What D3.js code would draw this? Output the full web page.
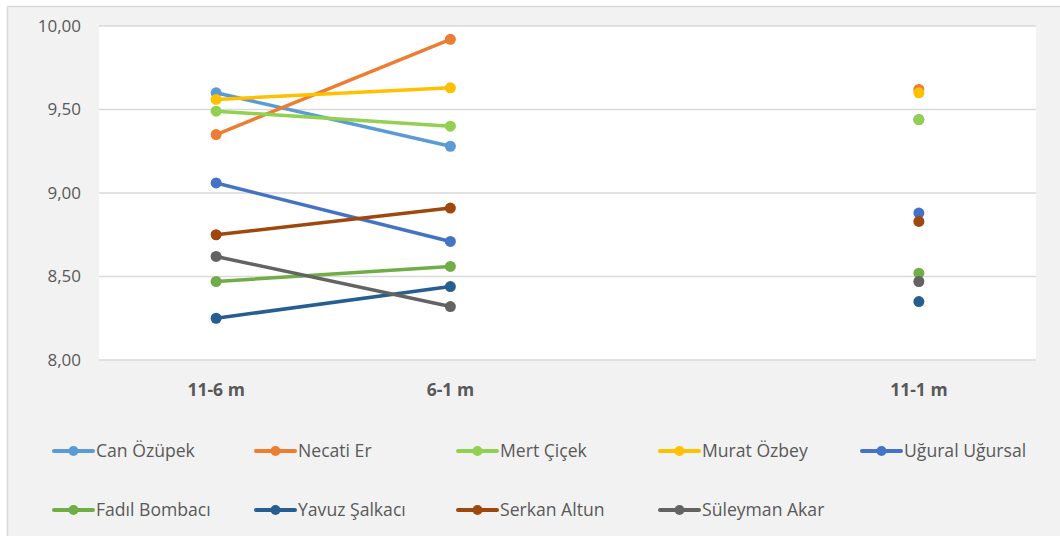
<!DOCTYPE html>
<html>
<head>
<meta charset="utf-8">
<script src="https://cdn.jsdelivr.net/npm/d3@7"></script>
<style>
  html, body { margin: 0; padding: 0; background: #fff; }
  svg { display: block; }
</style>
</head>
<body>
<div id="chart"></div>
<script>
'use strict'

// categories (third slot is an empty gap, as in the original sheet)
const categories = ['11-6 m', '6-1 m', '', '11-1 m']
const yTicks = [8, 8.5, 9, 9.5, 10]

const names = ['Can Özüpek', 'Necati Er', 'Mert Çiçek', 'Murat Özbey', 'Uğural Uğursal',
    'Fadıl Bombacı', 'Yavuz Şalkacı', 'Serkan Altun', 'Süleyman Akar']
const colors = ['#5B9BD5', '#ED7D31', '#92D050', '#FFC000', '#4472C4',
    '#70AD47', '#255E91', '#9E480E', '#636363']

const canOzupek = [9.60, 9.28, null, 9.44]
const necatiEr = [9.35, 9.92, null, 9.62]
const mertCicek = [9.49, 9.40, null, 9.44]
const muratOzbey = [9.56, 9.63, null, 9.60]
const uguralUgursal = [9.06, 8.71, null, 8.88]
const fadilBombaci = [8.47, 8.56, null, 8.52]
const yavuzSalkaci = [8.25, 8.44, null, 8.35]
const serkanAltun = [8.75, 8.91, null, 8.83]
const suleymanAkar = [8.62, 8.32, null, 8.47]

const seriesValues = [canOzupek, necatiEr, mertCicek, muratOzbey, uguralUgursal,
    fadilBombaci, yavuzSalkaci, serkanAltun, suleymanAkar]

const series = names.map((n, i) => ({ name: n, color: colors[i], values: seriesValues[i] }))

////////////////////////////////////
//////////// svg setup /////////////
////////////////////////////////////

const svgWidth = 1060
const svgHeight = 536
const plot = { left: 99, right: 1036, top: 26, bottom: 360 }
const font = "'Open Sans', sans-serif"
const textColor = '#595959'

const svg = d3.select('#chart')
    .append('svg')
    .attr('width', svgWidth)
    .attr('height', svgHeight)

// chart area background + border
svg.append('rect')
    .attr('x', 7.5).attr('y', 6.5)
    .attr('width', svgWidth).attr('height', svgHeight)
    .attr('fill', '#f2f2f2')
    .attr('stroke', '#d9d9d9')
    .attr('stroke-width', 1.5)

// plot area
svg.append('rect')
    .attr('x', plot.left).attr('y', plot.top)
    .attr('width', plot.right - plot.left).attr('height', plot.bottom - plot.top)
    .attr('fill', '#fff')

const x = d3.scaleBand()
    .domain(d3.range(categories.length))
    .range([plot.left, plot.right])

const y = d3.scaleLinear()
    .domain([8, 10])
    .range([plot.bottom, plot.top])

// gridlines
svg.append('g')
    .selectAll('line')
    .data(yTicks)
    .join('line')
    .attr('x1', plot.left).attr('x2', plot.right)
    .attr('y1', d => y(d)).attr('y2', d => y(d))
    .attr('stroke', '#d9d9d9')
    .attr('stroke-width', 1.5)

// y axis labels
const yAxis = svg.append('g')
    .attr('transform', `translate(${plot.left - 18},0)`)
    .call(d3.axisLeft(y).tickValues(yTicks).tickSize(0).tickPadding(0)
        .tickFormat(d => d3.format('.2f')(d).replace('.', ',')))
yAxis.select('.domain').remove()
yAxis.selectAll('text')
    .attr('font-family', font)
    .attr('font-size', 17)
    .attr('fill', textColor)

// x axis labels
const xAxis = svg.append('g')
    .attr('transform', `translate(0,${plot.bottom + 24})`)
    .call(d3.axisBottom(x).tickSize(0).tickPadding(0).tickFormat(i => categories[i]))
xAxis.select('.domain').remove()
xAxis.selectAll('text')
    .attr('font-family', font)
    .attr('font-size', 17.5)
    .attr('font-weight', 'bold')
    .attr('fill', textColor)

////////////////////////////////////
///////////// series ///////////////
////////////////////////////////////

const cx = i => x(i) + x.bandwidth() / 2

const line = d3.line()
    .defined(d => d != null)
    .x((d, i) => cx(i))
    .y(d => y(d))

const g = svg.append('g')
    .selectAll('g')
    .data(series)
    .join('g')

g.append('path')
    .attr('d', d => line(d.values))
    .attr('fill', 'none')
    .attr('stroke', d => d.color)
    .attr('stroke-width', 3.5)
    .attr('stroke-linecap', 'round')

g.selectAll('circle')
    .data(d => d.values.map((v, i) => ({ v, i, color: d.color })).filter(p => p.v != null))
    .join('circle')
    .attr('cx', p => cx(p.i))
    .attr('cy', p => y(p.v))
    .attr('r', 5.5)
    .attr('fill', p => p.color)

////////////////////////////////////
///////////// legend ///////////////
////////////////////////////////////

const legend = svg.append('g')
    .selectAll('g')
    .data(series)
    .join('g')
    .attr('transform', (d, i) => `translate(${54 + (i % 5) * 202},${451 + Math.floor(i / 5) * 59})`)

legend.append('line')
    .attr('x1', 0).attr('x2', 39)
    .attr('stroke', d => d.color)
    .attr('stroke-width', 4)
    .attr('stroke-linecap', 'round')

legend.append('circle')
    .attr('cx', 19.5)
    .attr('r', 5)
    .attr('fill', d => d.color)

legend.append('text')
    .attr('x', 42)
    .attr('dy', '0.35em')
    .attr('font-family', font)
    .attr('font-size', 17.6)
    .attr('fill', textColor)
    .text(d => d.name)
</script>
</body>
</html>
